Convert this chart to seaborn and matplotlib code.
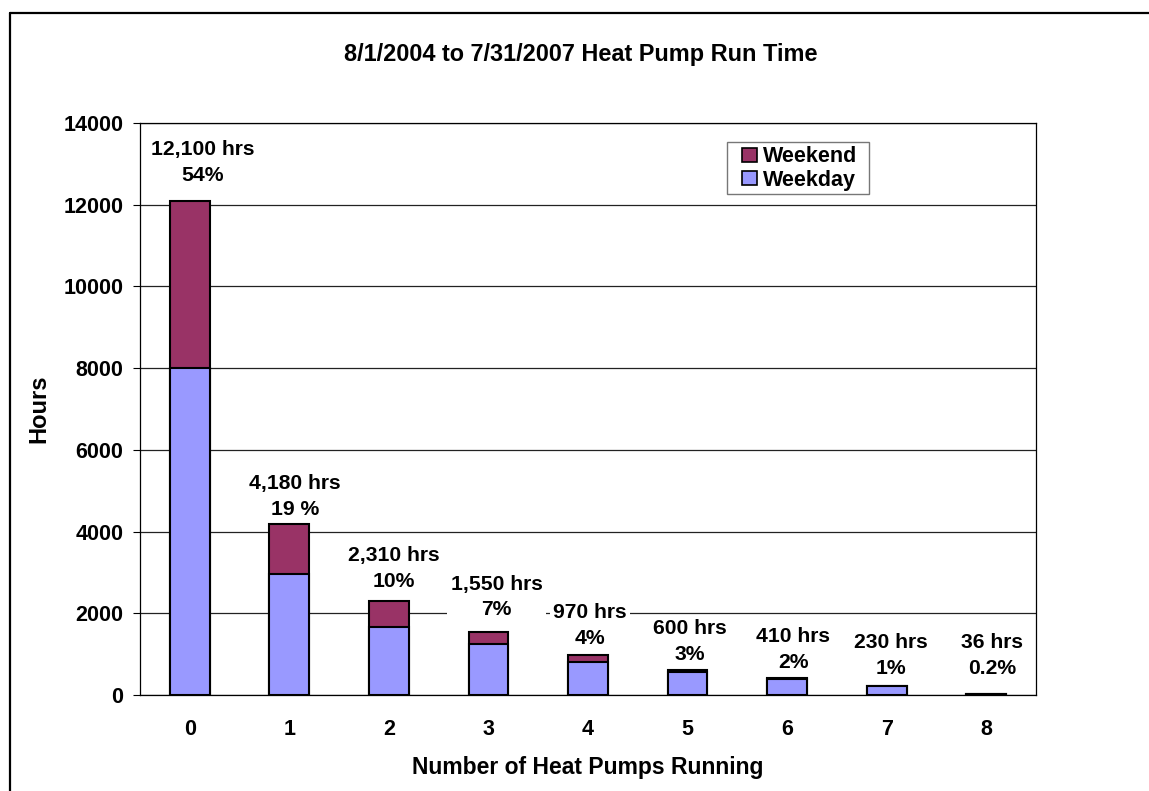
import matplotlib
matplotlib.use("Agg")
import matplotlib.pyplot as plt
import seaborn as sns
import pandas as pd
import numpy as np
from matplotlib.patches import Patch, Rectangle
from matplotlib.lines import Line2D

# ---- data ----
pumps = ["0", "1", "2", "3", "4", "5", "6", "7", "8"]
weekday = [8000, 2950, 1670, 1240, 810, 560, 400, 225, 34]
weekend = [4100, 1230, 640, 310, 160, 40, 10, 5, 2]
bar_labels = ["12,100 hrs\n54%", "4,180 hrs\n19 %", "2,310 hrs\n10%", "1,550 hrs\n7%",
              "970 hrs\n4%", "600 hrs\n3%", "410 hrs\n2%", "230 hrs\n1%", "36 hrs\n0.2%"]
y_ticks = [0, 2000, 4000, 6000, 8000, 10000, 12000, 14000]
title = "8/1/2004 to 7/31/2007 Heat Pump Run Time"
x_title = "Number of Heat Pumps Running"
y_title = "Hours"

# label offsets from bar tops (points) - layout only
label_dx = [9.4, 4.3, 3.6, 5.8, 1.1, 1.4, 4.3, 2.9, 4.3]
label_dy = [11.1, 3.9, 6.8, 8.9, 5.3, 4.6, 4.6, 5.3, 11.1]

df = pd.DataFrame({"pumps": pumps, "weekday": weekday, "weekend": weekend})
df["total"] = df["weekday"] + df["weekend"]

sns.set_style("white")
plt.rcParams["font.family"] = ["Liberation Sans", "DejaVu Sans"]
plt.rcParams["font.weight"] = "bold"
for k in ["text.color", "axes.labelcolor", "xtick.color", "ytick.color"]:
    plt.rcParams[k] = "black"

W, H = 1149, 791
fig = plt.figure(figsize=(W / 100, H / 100), dpi=100)
ax = fig.add_axes([140 / W, 1 - 695 / H, (1036 - 140) / W, (695 - 123) / H])

weekend_color = "#993366"
weekday_color = "#9999FF"
FS = 15.5

sns.barplot(data=df, x="pumps", y="total", color=weekend_color, saturation=1,
            width=0.4, edgecolor="black", linewidth=1.5, ax=ax, zorder=3)
sns.barplot(data=df, x="pumps", y="weekday", color=weekday_color, saturation=1,
            width=0.4, edgecolor="black", linewidth=1.5, ax=ax, zorder=4)

ax.set_ylim(0, 14000)
ax.set_xlim(-0.5, len(pumps) - 0.5)
ax.set_yticks(y_ticks)
ax.set_yticklabels([str(v) for v in y_ticks], fontsize=FS, fontweight="bold")
ax.set_xticks(range(len(pumps)))
ax.set_xticklabels(pumps, fontsize=FS, fontweight="bold")
ax.set_xticks(np.arange(-0.5, len(pumps)), minor=True)
ax.tick_params(axis="x", which="major", length=0, pad=17)
ax.tick_params(axis="x", which="minor", length=5, width=0.8, color="black", direction="out")
ax.tick_params(axis="y", which="major", length=5, width=0.8, color="black", direction="out", pad=7, left=True)

ax.yaxis.grid(True, color="#222222", linewidth=0.9, zorder=0)
ax.set_axisbelow(True)
for s in ax.spines.values():
    s.set_visible(True)
    s.set_color("black")
    s.set_linewidth(0.9)

ax.set_xlabel(x_title, fontsize=16.5, fontweight="bold", labelpad=12)
ax.set_ylabel(y_title, fontsize=17, fontweight="bold", labelpad=9.5)

for i, (tot, lab) in enumerate(zip(df["total"], bar_labels)):
    ax.annotate(lab, xy=(i, tot), xytext=(label_dx[i], label_dy[i]), textcoords="offset points",
                ha="center", va="bottom", fontsize=15.2, fontweight="bold",
                linespacing=1.45, zorder=2.4,
                bbox=dict(boxstyle="square,pad=0.15", facecolor="white", edgecolor="none"))

fig.text(581 / W, 1 - 55 / H, title, ha="center", va="center", fontsize=16.9, fontweight="bold")

# legend
fig.add_artist(Rectangle((727 / W, 1 - 194 / H), (869 - 727) / W, (194 - 142) / H,
                         transform=fig.transFigure, facecolor="white", edgecolor="#777777",
                         linewidth=1.0, zorder=5))
handles = [Patch(facecolor=weekend_color, edgecolor="black", linewidth=1.2, label="Weekend"),
           Patch(facecolor=weekday_color, edgecolor="black", linewidth=1.2, label="Weekday")]
leg = fig.legend(handles=handles, loc="center left", bbox_to_anchor=(742 / W, 1 - 168.5 / H),
                 bbox_transform=fig.transFigure, borderaxespad=0, borderpad=0, frameon=False,
                 prop={"size": FS, "weight": "bold"}, handlelength=0.7, handleheight=0.65,
                 handletextpad=0.28, labelspacing=0.1)
leg.set_zorder(6)

# outer chart border (left and top visible)
fig.add_artist(Line2D([10 / W, 10 / W], [1 - 13 / H, -0.05], transform=fig.transFigure,
                      color="black", linewidth=1.6))
fig.add_artist(Line2D([10 / W, 1.05], [1 - 13 / H, 1 - 13 / H], transform=fig.transFigure,
                      color="black", linewidth=1.6))

fig.savefig("out.png", dpi=100, facecolor="white")
